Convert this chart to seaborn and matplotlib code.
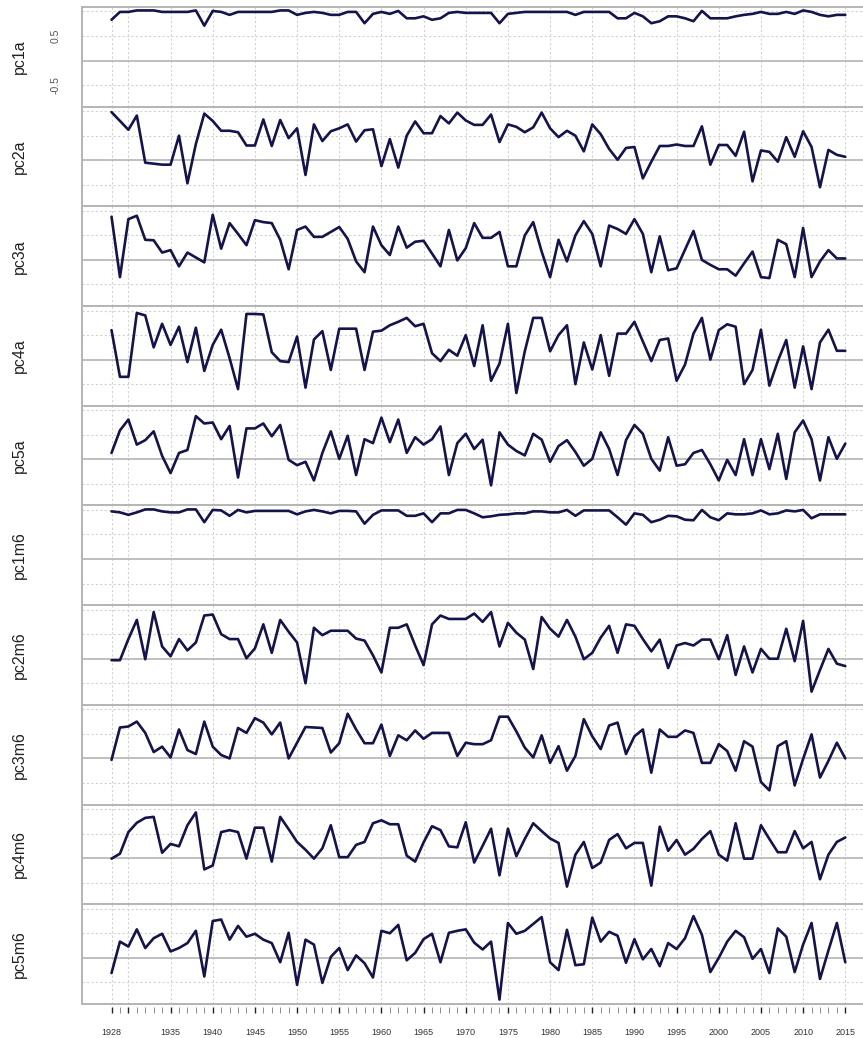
import numpy as np
import pandas as pd
import matplotlib
matplotlib.use("Agg")
import matplotlib.pyplot as plt
import seaborn as sns

sns.set_style("white")
plt.rcParams['font.family'] = ['Liberation Sans', 'DejaVu Sans']

# dados (1928-2015)
years = list(range(1928, 2016))

pc1a = [0.83, 0.99, 0.99, 1.02, 1.02, 1.02, 0.99, 0.99, 0.99, 0.99,
        1.02, 0.71, 1.01, 0.99, 0.93, 0.99, 0.99, 0.99, 0.99, 0.99,
        1.02, 1.02, 0.93, 0.97, 0.99, 0.97, 0.93, 0.93, 0.99, 0.99,
        0.76, 0.95, 0.99, 0.95, 1.01, 0.86, 0.86, 0.90, 0.83, 0.86,
        0.97, 0.99, 0.97, 0.97, 0.97, 0.97, 0.76, 0.95, 0.97, 0.99,
        0.99, 0.99, 0.99, 0.99, 0.99, 0.93, 0.99, 0.99, 0.99, 0.99,
        0.86, 0.86, 0.97, 0.90, 0.76, 0.80, 0.90, 0.90, 0.86, 0.80,
        1.01, 0.86, 0.86, 0.86, 0.90, 0.93, 0.95, 0.99, 0.95, 0.95,
        0.99, 0.95, 1.02, 0.99, 0.93, 0.90, 0.93, 0.93]

pc2a = [0.98, 0.80, 0.62, 0.91, -0.05, -0.07, -0.09, -0.09, 0.50, -0.47,
        0.33, 0.95, 0.80, 0.60, 0.60, 0.57, 0.30, 0.30, 0.83, 0.29,
        0.82, 0.45, 0.65, -0.30, 0.73, 0.39, 0.59, 0.65, 0.73, 0.38,
        0.61, 0.63, -0.12, 0.43, -0.15, 0.50, 0.79, 0.55, 0.55, 0.90,
        0.75, 0.97, 0.81, 0.72, 0.72, 0.93, 0.37, 0.73, 0.68, 0.57,
        0.67, 0.97, 0.65, 0.47, 0.60, 0.50, 0.18, 0.73, 0.53, 0.23,
        0.01, 0.25, 0.27, -0.37, -0.03, 0.29, 0.29, 0.32, 0.29, 0.29,
        0.69, -0.09, 0.31, 0.31, 0.09, 0.58, -0.43, 0.20, 0.17, -0.03,
        0.47, 0.07, 0.59, 0.27, -0.55, 0.21, 0.11, 0.07]

pc3a = [0.88, -0.35, 0.83, 0.90, 0.41, 0.40, 0.15, 0.20, -0.13, 0.15,
        0.05, -0.05, 0.92, 0.23, 0.75, 0.53, 0.30, 0.81, 0.77, 0.75,
        0.41, -0.19, 0.61, 0.68, 0.47, 0.47, 0.57, 0.67, 0.43, -0.03,
        -0.25, 0.68, 0.30, 0.10, 0.68, 0.25, 0.37, 0.39, 0.13, -0.13,
        0.61, -0.01, 0.24, 0.75, 0.45, 0.45, 0.57, -0.13, -0.13, 0.50,
        0.77, 0.17, -0.35, 0.41, -0.03, 0.50, 0.79, 0.53, -0.13, 0.70,
        0.63, 0.53, 0.83, 0.53, -0.25, 0.48, -0.21, -0.17, 0.21, 0.59,
        0.00, -0.10, -0.19, -0.19, -0.32, -0.07, 0.17, -0.35, -0.37, 0.41,
        0.32, -0.35, 0.65, -0.35, -0.03, 0.20, 0.03, 0.03]

pc4a = [0.60, -0.35, -0.35, 0.95, 0.90, 0.25, 0.73, 0.30, 0.67, -0.05,
        0.65, -0.23, 0.30, 0.61, 0.03, -0.60, 0.93, 0.93, 0.92, 0.15,
        -0.03, -0.05, 0.47, -0.57, 0.41, 0.58, -0.21, 0.63, 0.63, 0.63,
        -0.21, 0.57, 0.59, 0.70, 0.77, 0.85, 0.68, 0.73, 0.13, -0.03,
        0.20, 0.08, 0.50, -0.13, 0.70, -0.43, -0.08, 0.73, -0.68, 0.17,
        0.85, 0.85, 0.17, 0.50, 0.70, -0.50, 0.35, -0.20, 0.50, -0.33,
        0.53, 0.53, 0.77, 0.37, -0.03, 0.40, 0.43, -0.43, -0.10, 0.53,
        0.85, 0.00, 0.60, 0.72, 0.67, -0.50, -0.21, 0.61, -0.53, -0.03,
        0.40, -0.57, 0.27, -0.60, 0.35, 0.61, 0.18, 0.18]

pc5a = [0.13, 0.59, 0.81, 0.30, 0.39, 0.57, 0.07, -0.28, 0.13, 0.19,
        0.88, 0.73, 0.75, 0.41, 0.68, -0.37, 0.63, 0.63, 0.73, 0.47,
        0.70, -0.01, -0.12, -0.05, -0.43, 0.13, 0.57, 0.01, 0.48, -0.32,
        0.41, 0.33, 0.85, 0.35, 0.81, 0.13, 0.45, 0.30, 0.41, 0.67,
        -0.32, 0.33, 0.52, 0.21, 0.40, -0.53, 0.55, 0.30, 0.17, 0.08,
        0.52, 0.40, -0.05, 0.27, 0.39, 0.15, -0.13, 0.01, 0.55, 0.21,
        -0.32, 0.39, 0.70, 0.52, 0.01, -0.23, 0.45, -0.13, -0.10, 0.13,
        0.19, -0.10, -0.43, -0.01, -0.32, 0.41, -0.32, 0.41, -0.20, 0.52,
        -0.40, 0.55, 0.79, 0.41, -0.43, 0.45, 0.01, 0.32]

pc1m6 = [0.97, 0.95, 0.90, 0.95, 1.01, 1.01, 0.97, 0.95, 0.95, 1.01,
         1.01, 0.75, 1.00, 0.99, 0.88, 1.00, 0.95, 0.98, 0.98, 0.98,
         0.98, 0.98, 0.91, 0.97, 1.00, 0.97, 0.93, 0.98, 0.98, 0.97,
         0.72, 0.90, 0.99, 0.99, 0.99, 0.88, 0.88, 0.93, 0.75, 0.93,
         0.93, 1.00, 1.00, 0.93, 0.85, 0.87, 0.90, 0.91, 0.93, 0.93,
         0.97, 0.97, 0.95, 0.95, 1.00, 0.88, 0.99, 0.99, 0.99, 0.99,
         0.85, 0.70, 0.93, 0.90, 0.75, 0.80, 0.88, 0.87, 0.80, 0.79,
         1.00, 0.85, 0.79, 0.93, 0.91, 0.91, 0.93, 0.99, 0.91, 0.93,
         0.99, 0.97, 1.00, 0.83, 0.91, 0.91, 0.91, 0.91]

pc2m6 = [-0.03, -0.03, 0.40, 0.79, -0.01, 0.95, 0.25, 0.05, 0.40, 0.17,
         0.33, 0.88, 0.90, 0.50, 0.40, 0.40, 0.01, 0.21, 0.70, 0.12,
         0.79, 0.55, 0.33, -0.50, 0.63, 0.48, 0.57, 0.57, 0.57, 0.41,
         0.37, 0.07, -0.28, 0.63, 0.63, 0.70, 0.27, -0.13, 0.70, 0.88,
         0.81, 0.81, 0.81, 0.92, 0.75, 0.95, 0.25, 0.73, 0.53, 0.39,
         -0.21, 0.85, 0.61, 0.45, 0.79, 0.45, -0.01, 0.12, 0.43, 0.67,
         0.12, 0.70, 0.67, 0.40, 0.15, 0.39, -0.19, 0.27, 0.32, 0.27,
         0.39, 0.39, -0.01, 0.48, -0.33, 0.25, -0.28, 0.20, 0.00, 0.00,
         0.61, -0.05, 0.77, -0.67, -0.23, 0.20, -0.10, -0.15]

pc3m6 = [-0.03, 0.63, 0.65, 0.75, 0.52, 0.13, 0.24, 0.02, 0.59, 0.17,
         0.09, 0.75, 0.24, 0.07, 0.00, 0.62, 0.52, 0.82, 0.73, 0.49,
         0.73, 0.00, 0.32, 0.64, 0.63, 0.62, 0.12, 0.31, 0.91, 0.59,
         0.31, 0.31, 0.69, 0.05, 0.47, 0.37, 0.57, 0.40, 0.52, 0.52,
         0.52, 0.05, 0.32, 0.29, 0.29, 0.37, 0.85, 0.85, 0.55, 0.22,
         0.02, 0.47, -0.09, 0.25, -0.25, 0.05, 0.80, 0.45, 0.19, 0.67,
         0.73, 0.09, 0.45, 0.59, -0.29, 0.59, 0.44, 0.44, 0.57, 0.52,
         -0.09, -0.09, 0.29, 0.15, -0.25, 0.35, 0.24, -0.48, -0.65, 0.25,
         0.35, -0.55, -0.01, 0.49, -0.39, -0.05, 0.32, 0.00]

pc4m6 = [-0.01, 0.09, 0.53, 0.72, 0.82, 0.84, 0.11, 0.29, 0.24, 0.67,
         0.93, -0.23, -0.15, 0.53, 0.57, 0.53, -0.01, 0.62, 0.62, -0.07,
         0.84, 0.59, 0.33, 0.17, -0.01, 0.20, 0.67, 0.02, 0.02, 0.27,
         0.33, 0.71, 0.77, 0.69, 0.69, 0.05, -0.07, 0.32, 0.65, 0.57,
         0.24, 0.22, 0.73, -0.09, 0.25, 0.60, -0.35, 0.60, 0.04, 0.39,
         0.71, 0.55, 0.40, 0.31, -0.58, 0.07, 0.33, -0.20, -0.09, 0.37,
         0.49, 0.20, 0.31, 0.31, -0.56, 0.64, 0.15, 0.37, 0.07, 0.19,
         0.39, 0.55, 0.07, -0.05, 0.71, -0.01, -0.01, 0.67, 0.39, 0.12,
         0.12, 0.55, 0.20, 0.33, -0.43, 0.07, 0.33, 0.42]

pc5m6 = [-0.31, 0.33, 0.23, 0.58, 0.20, 0.40, 0.49, 0.13, 0.20, 0.30,
         0.55, -0.38, 0.75, 0.78, 0.37, 0.65, 0.43, 0.49, 0.37, 0.30,
         -0.09, 0.51, -0.55, 0.37, 0.27, -0.51, 0.02, 0.20, -0.25, 0.05,
         -0.11, -0.40, 0.55, 0.50, 0.67, -0.05, 0.10, 0.38, 0.49, -0.09,
         0.51, 0.55, 0.58, 0.31, 0.17, 0.33, -0.85, 0.71, 0.49, 0.55,
         0.69, 0.83, -0.09, -0.25, 0.57, -0.15, -0.13, 0.82, 0.33, 0.53,
         0.45, -0.10, 0.38, -0.03, 0.18, -0.17, 0.30, 0.18, 0.40, 0.85,
         0.47, -0.29, 0.00, 0.33, 0.55, 0.42, -0.02, 0.18, -0.31, 0.60,
         0.43, -0.29, 0.27, 0.71, -0.43, 0.15, 0.71, -0.09]

nomes = ["pc1a", "pc2a", "pc3a", "pc4a", "pc5a",
         "pc1m6", "pc2m6", "pc3m6", "pc4m6", "pc5m6"]
series = [pc1a, pc2a, pc3a, pc4a, pc5a, pc1m6, pc2m6, pc3m6, pc4m6, pc5m6]

anos_major = [1928, 1930] + list(range(1935, 2016, 5))
rotulos_x = ["" if a == 1930 else str(a) for a in anos_major]

# aparência
cor_linha = "#14144a"
cor_solida = "#b4b4b4"
cor_grade = "#d2d2d2"
xlim = (1924.5, 2017.1)
ylim = (-0.94, 1.09)

W, H = 863, 1038
fig = plt.figure(figsize=(W / 100, H / 100), dpi=100)

left = 82 / W
topo = 1 - 7 / H
base = 1 - 1004 / H
altura = (topo - base) / len(series)

axes = []
for k, (nome, vals) in enumerate(zip(nomes, series)):
    assert len(vals) == len(years), nome
    b = topo - (k + 1) * altura
    ax = fig.add_axes([left, b, 1 - left, altura])
    df = pd.DataFrame({"ano": years, "valor": vals})
    sns.lineplot(data=df, x="ano", y="valor", ax=ax, color=cor_linha,
                 linewidth=1.9, zorder=5)
    ax.set_xlim(*xlim)
    ax.set_ylim(*ylim)
    for s in ax.spines.values():
        s.set_visible(False)
    ax.set_xlabel("")
    ax.set_ylabel("")

    # grade
    for yv in (-0.5, 0.5, 1.0):
        ax.axhline(yv, color=cor_grade, lw=0.8, ls=(0, (2, 2)), zorder=1)
    for xv in anos_major:
        ax.axvline(xv, color=cor_grade, lw=0.8, ls=(0, (2, 2)), zorder=1)
    ax.axhline(0, color=cor_solida, lw=1.2, zorder=2)
    ax.axhline(ylim[1], color=cor_solida, lw=1.4, zorder=2, clip_on=False)
    ax.axvline(xlim[0], color=cor_solida, lw=1.4, zorder=2, clip_on=False)

    ax.set_xticks([])
    ax.set_yticks([])
    fig.text(19 / W, b + altura / 2, nome, rotation=90, ha="center",
             va="center", fontsize=11.5, color="#222222")
    axes.append(ax)

# eixo y apenas no primeiro painel
ax0 = axes[0]
ax0.set_yticks([1.0, 0.5, 0.0, -0.5])
ax0.set_yticklabels(["", "0.5", "", "-0.5"], rotation=90, va="center")
ax0.tick_params(axis="y", length=6.5, width=0.9, color="#a0a0a0",
                labelsize=7.5, labelcolor="#555555", pad=9)

# eixo x no último painel
axl = axes[-1]
axl.axhline(ylim[0], color=cor_solida, lw=1.4, zorder=2, clip_on=False)
axl.spines["bottom"].set_position(("outward", 2.5))
axl.set_xticks(anos_major)
axl.set_xticklabels(rotulos_x)
axl.set_xticks(years, minor=True)
axl.tick_params(axis="x", which="major", length=4.5, width=1.0,
                color="#222222", labelsize=6.5, labelcolor="#333333", pad=10,
                bottom=True)
axl.tick_params(axis="x", which="minor", length=4.5, width=0.6,
                color="#777777", bottom=True)

fig.savefig("out.png", dpi=100)
